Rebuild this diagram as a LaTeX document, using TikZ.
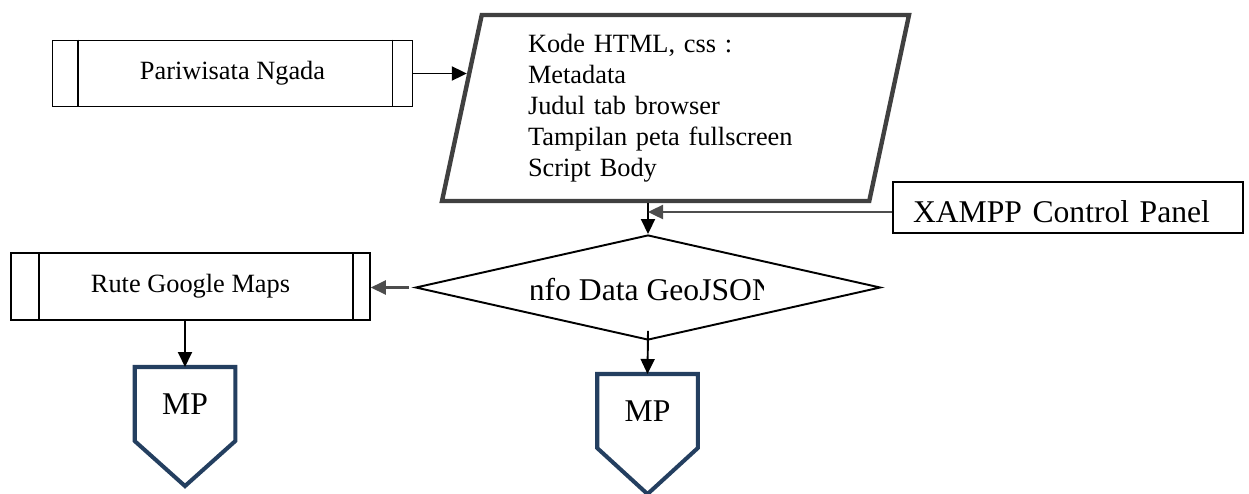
\documentclass[tikz,border=0pt]{standalone}
\usepackage{fontspec}
\setmainfont{Liberation Serif}
\usetikzlibrary{arrows.meta,calc,positioning,shapes.geometric}
\definecolor{kodegray}{HTML}{404040}
\definecolor{arrgray}{HTML}{4D4D4D}
\definecolor{mpblue}{HTML}{243F60}
\newcommand{\txtkecil}{\fontsize{15}{17.6}\selectfont}
\newcommand{\txtbesar}{\fontsize{18}{20}\selectfont}
\tikzset{
  subproses/.style={draw,line width=0.9pt,minimum height=1.32cm,font=\txtkecil},
  panah/.style={-{Triangle[length=0.3cm,width=0.28cm]},line width=1.1pt},
  panahabu/.style={-{Triangle[length=0.3cm,width=0.28cm]},line width=1.4pt,draw=arrgray},
  offpage/.style={minimum width=1.93cm,minimum height=1.4cm,outer sep=1.15pt,inner sep=0pt,font=\txtbesar},
  offpagegaris/.style={draw=mpblue,line width=2.3pt,line join=miter}
}

\begin{document}
\begin{tikzpicture}
            \useasboundingbox (0,0) rectangle (24.98,9.86);
            % bagian atas
            \node[subproses,minimum width=7.2cm] (pw) at (4.65,8.39){Pariwisata Ngada};
            \draw[line width=0.9pt]($(pw.north west)+(0.52,0)$)--($(pw.south west)+(0.52,0)$);
            \draw[line width=0.9pt]($(pw.north east)-(0.42,0)$)--($(pw.south east)-(0.42,0)$);
            \node[draw=kodegray,line width=2.5pt,trapezium,trapezium left angle=76,trapezium right angle=104,trapezium stretches body,
              minimum width=9.34cm,minimum height=3.72cm,text width=5.9cm,align=left,font=\txtkecil] (kode) at (13.51,7.70)
              {Kode HTML, css :\\Metadata\\Judul tab browser\\Tampilan peta fullscreen\\Script Body};
            \coordinate (kodekiri) at ($(kode.bottom left corner)!0.677!(kode.top left corner)$);
            \node[draw,line width=0.9pt,text width=6.2cm,inner xsep=0.4cm,minimum height=1.02cm,text height=0.62cm,align=left,font=\txtbesar] (xampp) at (21.36,5.71){XAMPP Control Panel};
            % bagian tengah
            \node[draw,line width=1.1pt,diamond,minimum width=9.3cm,minimum height=2.1cm,inner sep=0pt] (info) at (12.96,4.11){};
            \begin{scope}
              \clip (10.62,3.5) rectangle (15.26,4.6);
              \node[anchor=base west,inner sep=0pt,font=\txtbesar] (infotxt) at (10.36,3.86){Info Data GeoJSON};
            \end{scope}
            \node[subproses,minimum width=7.18cm,minimum height=1.34cm] (rute) at (3.81,4.13){Rute Google Maps};
            \draw[line width=0.9pt]($(rute.north west)+(0.58,0)$)--($(rute.south west)+(0.58,0)$);
            \draw[line width=0.9pt]($(rute.north east)-(0.36,0)$)--($(rute.south east)-(0.36,0)$);
            % bagian bawah
            \node[offpage,anchor=north] (mp1) at (3.70,2.52){MP};
            \draw[offpagegaris](mp1.north west)--(mp1.north east)--(mp1.south east)--($(mp1.south)+(0,-0.9)$)--(mp1.south west)--cycle;
            \node[offpage,anchor=north] (mp2) at (12.95,2.38){MP};
            \draw[offpagegaris](mp2.north west)--(mp2.north east)--(mp2.south east)--($(mp2.south)+(0,-0.92)$)--(mp2.south west)--cycle;
            % panah
            \draw[panah](pw.east)--(pw.east -| kodekiri);
            \draw[panah](info.north |- kode.south)--(info.north);
            \draw[panahabu]([yshift=-0.09cm]xampp.west)--([yshift=-0.09cm]xampp.west -| info.north);
            \draw[panahabu,shorten <=0.12cm](info.west)--(info.west -| rute.east);
            \draw[panah]([yshift=0.2cm]info.south)--(mp2.north);
            \draw[panah](rute.south -| mp1.north)--(mp1.north);
        \end{tikzpicture}
\end{document}
